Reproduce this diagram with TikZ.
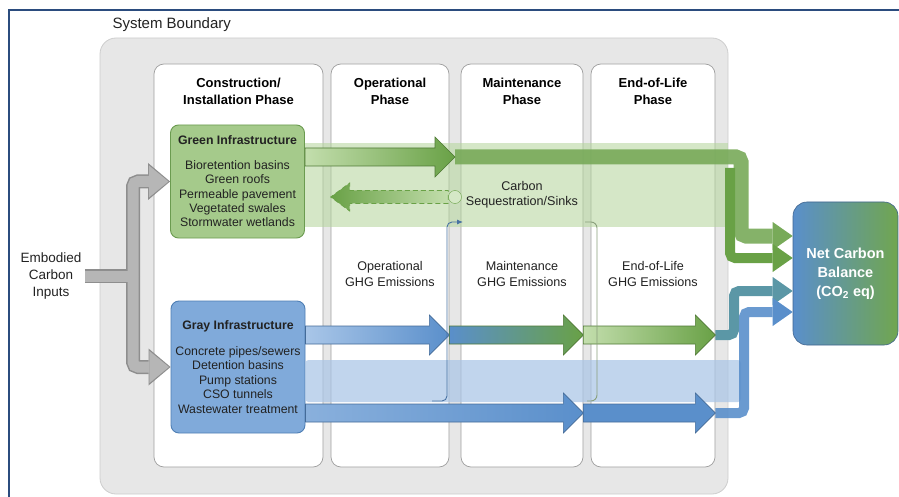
\documentclass[tikz,border=0pt]{standalone}
\usepackage{fontspec}
\setmainfont{Liberation Sans}
\usepackage{xcolor}
\usetikzlibrary{arrows.meta,calc}

\definecolor{frameblue}{HTML}{2B4C7E}
\definecolor{sysfill}{HTML}{E7E7E7}
\definecolor{sysedge}{HTML}{CDCDCD}
\definecolor{coledge}{HTML}{9E9E9E}
\definecolor{txt}{HTML}{222222}
\definecolor{gifill}{HTML}{A5CA8B}
\definecolor{giedge}{HTML}{6B9B50}
\definecolor{grfill}{HTML}{80AADA}
\definecolor{gredge}{HTML}{4F7FB5}
\definecolor{darkgreen}{HTML}{69A146}
\definecolor{lightgreen}{HTML}{C3DEAD}
\definecolor{darkblue}{HTML}{5A8FCB}
\definecolor{lightblue}{HTML}{A9C6E8}
\definecolor{tealflow}{HTML}{5B97A6}
\definecolor{bandgreen}{HTML}{B3D59A}
\definecolor{bandblue}{HTML}{A8C4E6}
\definecolor{inputgray}{HTML}{B6B6B6}
\definecolor{inputedge}{HTML}{8E8E8E}

% wide flow arrow: [options]{from}{tip}{left colour}{right colour}
\newcommand{\fatarrow}[5][]{%
  \draw[fatedge, draw=#5!75!black, left color=#4, right color=#5, #1]
    ($(#2)+(0,9)$) -- ($(#3)+(-20,9)$) -- ($(#3)+(-20,20)$) -- (#3)
    -- ($(#3)+(-20,-20)$) -- ($(#3)+(-20,-9)$) -- ($(#2)+(0,-9)$) -- cycle;}

\begin{document}
\begin{tikzpicture}[x=1pt, y=-1pt,
    phasebox/.style={draw=coledge, fill=white, rounded corners=10pt, line width=0.7pt, minimum height=403pt},
    phasetitle/.style={font=\fontsize{13}{16.5}\selectfont\bfseries, align=center, text=black},
    emission/.style={font=\fontsize{12.6}{15.5}\selectfont, align=center, text=txt},
    infra/.style={rounded corners=8pt, line width=0.9pt, font=\fontsize{12.3}{14.4}\selectfont, align=center, text=txt, minimum width=134pt},
    fatedge/.style={line width=0.6pt, line join=miter},
    netflow/.style={draw=darkgreen, line width=10pt, rounded corners=5pt, -{Triangle[length=20pt,width=28pt,line width=0pt]}},
  ]
    \useasboundingbox (0,0) rectangle (899,497);
    \clip (0,0) rectangle (899,497);

    % outer frame
    \draw[frameblue, line width=2pt] (9,10) rectangle (930,530);

    % System boundary
    \draw[draw=sysedge, fill=sysfill, rounded corners=16pt, line width=0.8pt] (100,38) rectangle (728,494);
    \node[anchor=west, font=\fontsize{15}{18}\selectfont, text=txt] (sysname) at (109,25) {System Boundary};

    % Phase columns
    \foreach \cx/\w/\name/\title in {238.5/169pt/cons/{Construction/\\Installation Phase},
        390/118pt/ops/{Operational\\Phase}, 522/122pt/maint/{Maintenance\\Phase},
        653/124pt/eol/{End-of-Life\\Phase}} {
        \node[phasebox, minimum width=\w] (\name) at (\cx,265.5) {};
        \node[phasetitle] at (\cx,91.5) {\title};
    }

    % Infrastructure boxes and net balance
    \node[infra, draw=giedge, fill=gifill, minimum height=113pt] (green) at (237.5,181.5)
        {\textbf{Green Infrastructure}\\[10pt]Bioretention basins\\Green roofs\\Permeable pavement\\Vegetated swales\\Stormwater wetlands};
    \node[infra, draw=gredge, fill=grfill, minimum height=132pt] (gray) at (238,367)
        {\textbf{Gray Infrastructure}\\[11.5pt]Concrete pipes/sewers\\Detention basins\\Pump stations\\CSO tunnels\\Wastewater treatment};
    \node[draw=darkblue!70!black, line width=0.6pt, left color=darkblue, right color=darkgreen!95!white,
        rounded corners=14pt, minimum width=105pt, minimum height=143pt, text=white,
        font=\fontsize{14.5}{19}\selectfont\bfseries, align=center] (net) at (845.5,273.5)
        {Net Carbon\\Balance\\(CO\textsubscript{2} eq)};

    % Bands
    \fill[bandgreen, fill opacity=0.55] (green.east |- 0,143) rectangle (728,227);
    \fill[bandblue, fill opacity=0.7, rounded corners=3pt] (gray.east |- 0,360) rectangle (741,402);

    % Labels
    \node[font=\fontsize{13.5}{17}\selectfont, align=center, text=txt] (embodied) at (51,276) {Embodied\\Carbon\\Inputs};
    \node[emission] (opsghg) at (390,274) {Operational\\GHG Emissions};
    \node[emission] (maintghg) at (522,274) {Maintenance\\GHG Emissions};
    \node[emission] (eolghg) at (653,274) {End-of-Life\\GHG Emissions};
    \node[emission, font=\fontsize{12.6}{15}\selectfont] (seqtext) at (522,194.5) {Carbon\\Sequestration/Sinks};

    % Flows into net carbon balance
    \coordinate (gtip) at (455,157);
    \coordinate (brow) at (0,335);
    \coordinate (lrow) at (0,413);
    \draw[netflow, line width=15pt, draw opacity=0.9, draw=darkgreen!90!white] (gtip) -- (741,157) -- (741,236) -- (net.west |- 0,236);
    \draw[netflow] (730,168) -- (730,258) -- (net.west |- 0,258);
    \draw[netflow, draw=tealflow] (eol.east |- brow) -- (734,335) -- (734,291) -- (net.west |- 0,291);
    \draw[netflow, draw=darkblue, draw opacity=0.9] (eol.east |- lrow) -- (744,413) -- (744,312) -- (net.west |- 0,312);

    % Phase arrows
    \fatarrow{green.east |- gtip}{gtip}{lightgreen}{darkgreen}
    \fatarrow{gray.east |- brow}{ops.east |- brow}{lightblue}{darkblue}
    \fatarrow{ops.east |- brow}{maint.east |- brow}{darkblue}{darkgreen}
    \fatarrow{maint.east |- brow}{eol.east |- brow}{lightgreen}{darkgreen}
    \fatarrow{gray.east |- lrow}{maint.east |- lrow}{lightblue!60!darkblue}{darkblue}
    \fatarrow{maint.east |- lrow}{eol.east |- lrow}{darkblue}{darkblue}

    % Sequestration return arrow
    \node[circle, draw=darkgreen, fill=lightgreen!70!white, minimum size=13pt, inner sep=0pt] (sink) at (455,197) {};
    \draw[dash pattern=on 5pt off 3pt, line width=0.7pt, draw=darkgreen, left color=darkgreen, right color=lightgreen]
        ($(sink.west)+(0,6.5)$) -- ($(ops.west |- sink)+(19,6.5)$) -- ($(ops.west |- sink)+(19,14)$) -- (ops.west |- sink)
        -- ($(ops.west |- sink)+(19,-14)$) -- ($(ops.west |- sink)+(19,-6.5)$) -- ($(sink.west)+(0,-6.5)$) -- cycle;

    % thin links between bands
    \draw[darkblue!80!black, line width=0.9pt, rounded corners=5pt, -{Latex[length=6pt,width=5pt]}] (432,401) -| (447,222) -- (463,222);
    \draw[coledge!60!darkgreen, line width=0.9pt, rounded corners=6pt] (585,222) -| (597,401) -- (587,401);

    % Embodied carbon inputs
    \coordinate (fork) at (133,276);
    \foreach \w/\c/\l/\h/\s in {14pt/inputedge/22pt/37pt/0pt, 11pt/inputgray/19.5pt/32pt/1.6pt} {
        \draw[line width=\w, draw=\c] (embodied.east) -- (fork);
        \draw[line width=\w, draw=\c, rounded corners=5pt, shorten >=\s, -{Triangle[length=\l,width=\h,line width=0pt]}] (fork) |- (green.west);
        \draw[line width=\w, draw=\c, rounded corners=5pt, shorten >=\s, -{Triangle[length=\l,width=\h,line width=0pt]}] (fork) |- (gray.west);
    }
\end{tikzpicture}
\end{document}
